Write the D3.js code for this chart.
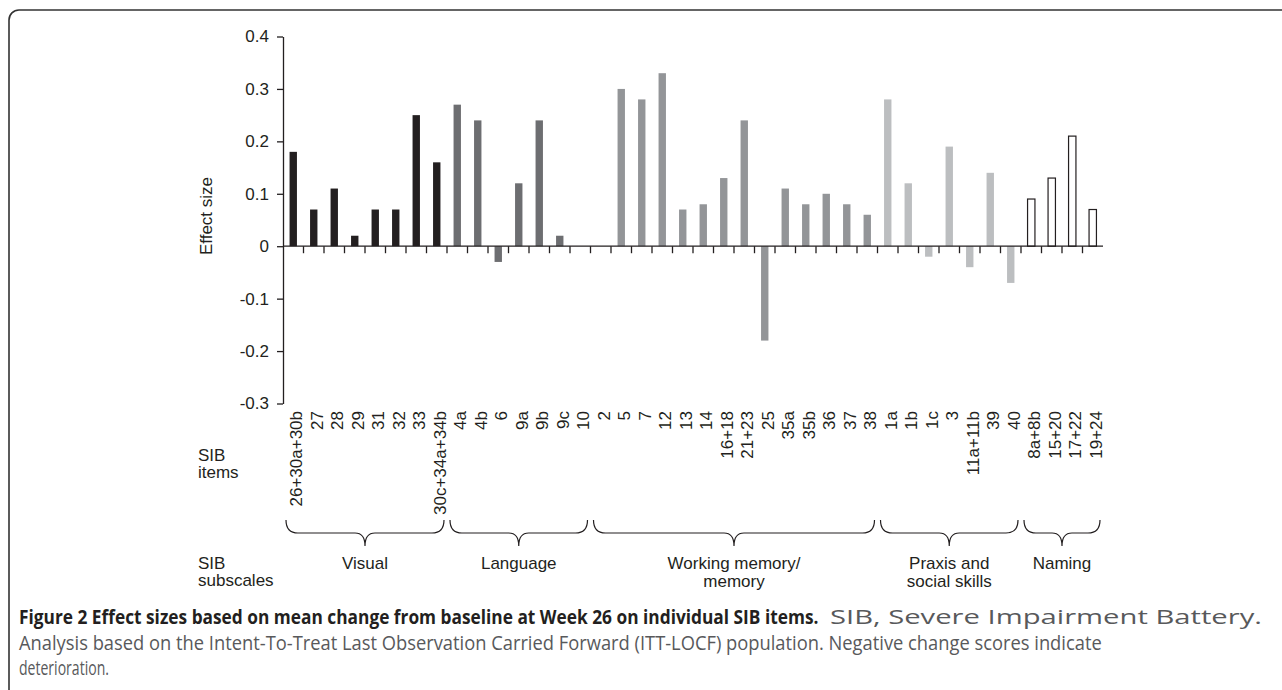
<!DOCTYPE html>
<html>
<head>
<meta charset="utf-8">
<script src="https://cdn.jsdelivr.net/npm/d3@7/dist/d3.min.js"></script>
<style>
  html, body { margin: 0; padding: 0; background: #fff; }
  svg { display: block; }
</style>
</head>
<body>
<svg id="chart" width="1282" height="690"></svg>
<script>
// ---------------- data ----------------
const items = ["26+30a+30b","27","28","29","31","32","33","30c+34a+34b",
  "4a","4b","6","9a","9b","9c","10",
  "2","5","7","12","13","14","16+18","21+23","25","35a","35b","36","37","38",
  "1a","1b","1c","3","11a+11b","39","40",
  "8a+8b","15+20","17+22","19+24"];
const values = [0.18,0.07,0.11,0.02,0.07,0.07,0.25,0.16,
  0.27,0.24,-0.03,0.12,0.24,0.02,0,
  0,0.30,0.28,0.33,0.07,0.08,0.13,0.24,-0.18,0.11,0.08,0.10,0.08,0.06,
  0.28,0.12,-0.02,0.19,-0.04,0.14,-0.07,
  0.09,0.13,0.21,0.07];
const subscales = [["Visual"],["Language"],["Working memory/","memory"],["Praxis and","social skills"],["Naming"]];
const subscaleCounts = [8,7,14,7,4];
const subscaleFills = ["#231f20","#6d6e71","#939598","#bcbec0","#ffffff"];
const yTicks = [0.4,0.3,0.2,0.1,0,-0.1,-0.2,-0.3];
const yTickLabels = ["0.4","0.3","0.2","0.1","0","-0.1","-0.2","-0.3"];
const captionBold = "Figure 2 Effect sizes based on mean change from baseline at Week 26 on individual SIB items.";
const captionLines = ["SIB, Severe Impairment Battery.",
  "Analysis based on the Intent-To-Treat Last Observation Carried Forward (ITT-LOCF) population. Negative change scores indicate",
  "deterioration."];

// ---------------- layout ----------------
const svg = d3.select("#chart");
const FONT = "'Liberation Sans', Arial, Helvetica, sans-serif";
const FS = "17px";
const INK = "#231f20";

// frame
svg.append("rect").attr("x",9).attr("y",10).attr("width",1320).attr("height",720)
  .attr("rx",10).attr("ry",10).attr("fill","none").attr("stroke","#333").attr("stroke-width",1.6);

const x = d3.scaleBand().domain(items).range([283,1103]).paddingInner(0).paddingOuter(0);
const y = d3.scaleLinear().domain([-0.3,0.4]).range([403.5,36.5]);

const groupOf = [];
subscaleCounts.forEach((c,g)=>{ for(let i=0;i<c;i++) groupOf.push(g); });
const groupStart = [];
{ let s=0; subscaleCounts.forEach(c=>{ groupStart.push(s); s+=c; }); }

// y axis
const yAxis = d3.axisLeft(y).tickValues(yTicks)
  .tickFormat((d,i)=>yTickLabels[i]).tickSize(6).tickSizeOuter(0).tickPadding(8);
const gy = svg.append("g").attr("transform","translate(283,0)").call(yAxis);
gy.select(".domain").attr("stroke",INK).attr("stroke-width",1.3);
gy.selectAll(".tick line").attr("stroke",INK).attr("stroke-width",1.3);
gy.selectAll(".tick text").attr("fill",INK).style("font-family",FONT).style("font-size",FS);

svg.append("text").attr("transform","translate(212,216) rotate(-90)")
  .attr("text-anchor","middle").attr("fill",INK)
  .style("font-family",FONT).style("font-size",FS).text("Effect size");

// bars
const barW = x.bandwidth()*0.36;
svg.append("g").selectAll("rect").data(items).join("rect")
  .attr("x",d=>x(d)+(x.bandwidth()-barW)/2)
  .attr("y",(d,i)=>y(Math.max(0,values[i])))
  .attr("width",barW)
  .attr("height",(d,i)=>Math.abs(y(values[i])-y(0)))
  .attr("fill",(d,i)=>subscaleFills[groupOf[i]])
  .attr("stroke",(d,i)=>groupOf[i]===4?INK:"none")
  .attr("stroke-width",1.2);

// x baseline + ticks
svg.append("line").attr("x1",283).attr("x2",1103).attr("y1",y(0)).attr("y2",y(0))
  .attr("stroke",INK).attr("stroke-width",1.3);
svg.append("g").selectAll("line").data(items.slice(1)).join("line")
  .attr("x1",d=>x(d)).attr("x2",d=>x(d))
  .attr("y1",y(0)).attr("y2",y(0)+7)
  .attr("stroke",INK).attr("stroke-width",1.3);

// item labels
svg.append("g").selectAll("text").data(items).join("text")
  .attr("transform",d=>`translate(${x(d)+x.bandwidth()/2+3},411) rotate(-90)`)
  .attr("text-anchor","end").attr("dy","0.35em").attr("fill",INK)
  .style("font-family",FONT).style("font-size",FS).text(d=>d);

// row labels
function rowLabel(lines, x0, y0){
  const t = svg.append("text").attr("fill",INK).style("font-family",FONT).style("font-size",FS);
  lines.forEach((l,i)=>t.append("tspan").attr("x",x0).attr("y",y0+i*17).text(l));
}
rowLabel(["SIB","items"],198,461);
rowLabel(["SIB","subscales"],198,569);

// braces
const braceTop = 520, braceMid = 533, braceTip = 546;
subscaleCounts.forEach((c,g)=>{
  const a = x(items[groupStart[g]]) + 3;
  const b = x(items[groupStart[g]+c-1]) + x.bandwidth() - 3;
  const m = (a+b)/2;
  const p = d3.path();
  p.moveTo(a, braceTop);
  p.quadraticCurveTo(a, braceMid, a+12, braceMid);
  p.lineTo(m-10, braceMid);
  p.quadraticCurveTo(m, braceMid, m, braceTip);
  p.quadraticCurveTo(m, braceMid, m+10, braceMid);
  p.lineTo(b-12, braceMid);
  p.quadraticCurveTo(b, braceMid, b, braceTop);
  svg.append("path").attr("d",p.toString()).attr("fill","none")
    .attr("stroke",INK).attr("stroke-width",1.2);
  const t = svg.append("text").attr("text-anchor","middle").attr("fill",INK)
    .style("font-family",FONT).style("font-size",FS);
  subscales[g].forEach((l,i)=>t.append("tspan").attr("x",m).attr("y",569+i*18).text(l));
});

// caption: horizontally scaled text (condensed look), exact width via transform
const CAP = "'Open Sans', 'Noto Sans', sans-serif";
const CFS = "19.5px";
const GRAY = "#58595b";
function capText(str, x0, y0, len, bold, fill){
  const t = svg.append("text").attr("x",0).attr("y",0).attr("fill",fill)
    .attr("font-weight",bold?"bold":"normal")
    .style("font-family",CAP).style("font-size",CFS).text(str);
  const nat = t.node().getComputedTextLength();
  t.attr("transform",`translate(${x0},${y0}) scale(${len/nat},1)`);
  return t;
}
capText(captionBold, 19, 624, 800, true, INK);
capText(captionLines[0], 830, 624, 432, false, GRAY);
capText(captionLines[1], 19, 650, 1084, false, GRAY);
capText(captionLines[2], 19, 675, 90, false, GRAY);
</script>
</body>
</html>
